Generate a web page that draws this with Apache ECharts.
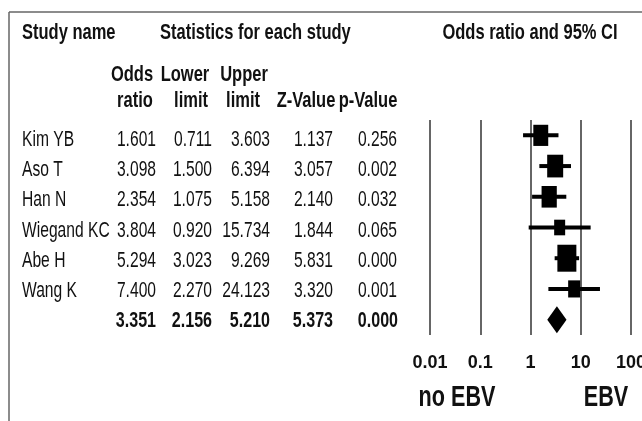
<!DOCTYPE html>
<html>
<head>
<meta charset="utf-8">
<script src="https://cdn.jsdelivr.net/npm/echarts@6/dist/echarts.min.js"></script>
<style>
  html, body { margin: 0; padding: 0; background: #fff; }
  #chart { width: 642px; height: 421px; }
</style>
</head>
<body>
<div id="chart"></div>
<script>
// Per-study statistics
const studies    = ['Kim YB', 'Aso T', 'Han N', 'Wiegand KC', 'Abe H', 'Wang K'];
const oddsRatio  = [1.601, 3.098, 2.354, 3.804, 5.294, 7.400];
const lowerLimit = [0.711, 1.500, 1.075, 0.920, 3.023, 2.270];
const upperLimit = [3.603, 6.394, 5.158, 15.734, 9.269, 24.123];
const zValue     = [1.137, 3.057, 2.140, 1.844, 5.831, 3.320];
const pValue     = [0.256, 0.002, 0.032, 0.065, 0.000, 0.001];
// Pooled estimate: odds ratio, lower, upper, Z, p
const pooledStats = [3.351, 2.156, 5.210, 5.373, 0.000];
const tickLabels  = ['0.01', '0.1', '1', '10', '100'];

const FONT = "'Liberation Sans', Arial, sans-serif";
const INK = '#111';

const chart = echarts.init(document.getElementById('chart'), null, { renderer: 'canvas' });

const rows = studies.map((s, i) => [oddsRatio[i], i, lowerLimit[i], upperLimit[i], 0]);
rows.push([pooledStats[0], studies.length, pooledStats[1], pooledStats[2], 1]);

// condensed text: drawn at full height and narrowed horizontally
function txt(text, x, y, size, bold, align, sx) {
  return {
    type: 'text', x: x, y: y, scaleX: sx, silent: true,
    style: {
      text: text, fill: INK, textAlign: align || 'left', textVerticalAlign: 'middle',
      font: (bold ? 'bold ' : '') + size + 'px ' + FONT
    }
  };
}
const HEAD = (t, x, y, a) => txt(t, x, y, 22, true, a, 0.75);

const graphics = [];
// frame
graphics.push({ type: 'line', shape: { x1: 9, y1: 12, x2: 642, y2: 12 }, style: { stroke: '#666', lineWidth: 1.5 } });
graphics.push({ type: 'line', shape: { x1: 9, y1: 12, x2: 9, y2: 421 }, style: { stroke: '#666', lineWidth: 1.5 } });
// headers
graphics.push(HEAD('Study name', 22, 33));
graphics.push(HEAD('Statistics for each study', 160, 33));
graphics.push(HEAD('Odds ratio and 95% CI', 530, 33, 'center'));
graphics.push(HEAD('Odds', 132, 75, 'center'));
graphics.push(HEAD('ratio', 135, 101, 'center'));
graphics.push(HEAD('Lower', 185, 75, 'center'));
graphics.push(HEAD('limit', 191, 101, 'center'));
graphics.push(HEAD('Upper', 244, 75, 'center'));
graphics.push(HEAD('limit', 243, 101, 'center'));
graphics.push(HEAD('Z-Value', 306, 101, 'center'));
graphics.push(HEAD('p-Value', 368, 101, 'center'));

// table body
const colRight = [156, 212, 270, 333, 397];
const rowY = i => 140 + 30.2 * i;
studies.forEach((name, i) => {
  const y = rowY(i);
  graphics.push(txt(name, 22, y, 22, false, 'left', 0.71));
  [oddsRatio[i], lowerLimit[i], upperLimit[i], zValue[i], pValue[i]].forEach((v, c) => {
    graphics.push(txt(v.toFixed(3), colRight[c], y, 22, false, 'right', 0.71));
  });
});
pooledStats.forEach((v, c) => {
  graphics.push(txt(v.toFixed(3), colRight[c] + (c === 4 ? 1 : 0), rowY(studies.length), 22, true, 'right', 0.73));
});

// direction labels under the axis
graphics.push(txt('no EBV', 457, 398, 30, true, 'center', 0.72));
graphics.push(txt('EBV', 606, 398, 30, true, 'center', 0.72));

const Z975 = 1.959964;

chart.setOption({
  animation: false,
  backgroundColor: '#fff',
  grid: { left: 430, right: 11, top: 120, bottom: 86, containLabel: false, outerBoundsMode: 'none' },
  xAxis: {
    type: 'log', logBase: 10, min: 0.01, max: 100, interval: 1,
    axisLine: { show: false }, axisTick: { show: false },
    splitLine: { show: true, lineStyle: { color: '#333', width: 1.5 } },
    axisLabel: {
      margin: 19, fontSize: 18, fontWeight: 'bold', color: INK, fontFamily: FONT,
      formatter: v => tickLabels[Math.round(Math.log10(v)) + 2]
    }
  },
  yAxis: {
    type: 'category', inverse: true, show: false,
    data: studies.concat(['Overall'])
  },
  series: [{
    type: 'custom',
    data: rows,
    encode: { x: 0, y: 1 },
    renderItem: function (params, api) {
      const idx = api.value(1);
      const c = api.coord([api.value(0), idx]);
      const lo = api.coord([api.value(2), idx]);
      const hi = api.coord([api.value(3), idx]);
      if (api.value(4) === 1) {
        const hh = 13.5;
        return {
          type: 'polygon',
          shape: { points: [[lo[0], c[1]], [c[0], c[1] - hh], [hi[0], c[1]], [c[0], c[1] + hh]] },
          style: { fill: '#000' }
        };
      }
      // box size grows with the study's inverse-variance weight
      const se = (Math.log(api.value(3)) - Math.log(api.value(2))) / (2 * Z975);
      const w = 5.8 + 3.77 * Math.sqrt(1 / (se * se));
      const h = w * 1.42;
      return {
        type: 'group',
        children: [
          { type: 'line', shape: { x1: lo[0], y1: c[1], x2: hi[0], y2: c[1] }, style: { stroke: '#000', lineWidth: 4 } },
          { type: 'rect', shape: { x: c[0] - w / 2, y: c[1] - h / 2, width: w, height: h }, style: { fill: '#000' } }
        ]
      };
    }
  }],
  graphic: graphics
});
</script>
</body>
</html>
